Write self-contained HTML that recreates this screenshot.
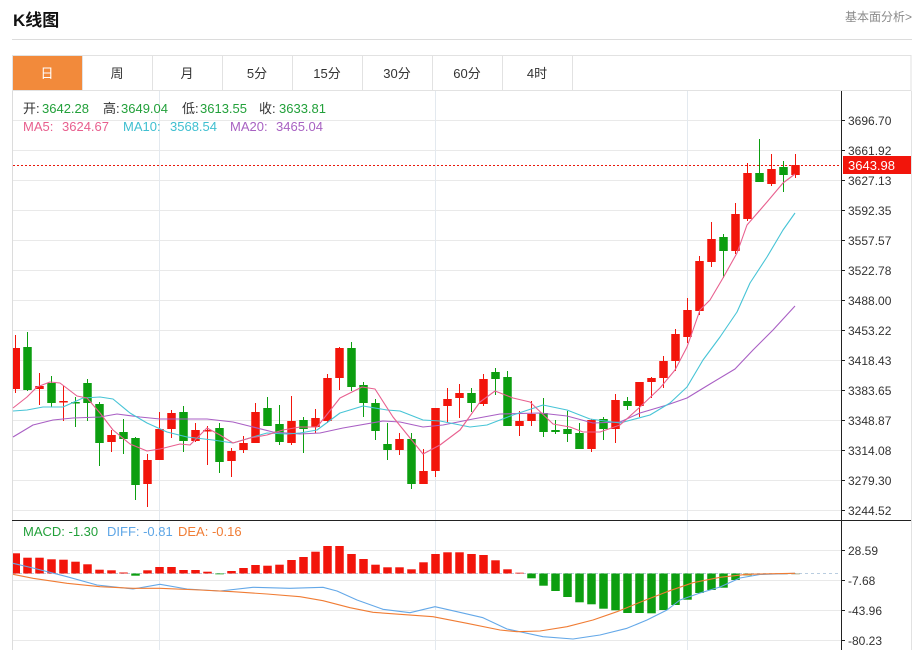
<!DOCTYPE html>
<html><head><meta charset="utf-8"><style>
html,body{margin:0;padding:0;background:#fff;}
svg{display:block;}
text{font-family:"Liberation Sans","Noto Sans CJK SC",sans-serif;}
</style></head><body>
<svg width="918" height="650" viewBox="0 0 918 650" xmlns="http://www.w3.org/2000/svg">
<rect width="918" height="650" fill="#fff"/>
<!-- header -->
<text x="13" y="26" font-size="17" font-weight="bold" fill="#111">K线图</text>
<text x="912" y="21" font-size="12" fill="#8a8a8a" text-anchor="end">基本面分析&gt;</text>
<line x1="12" y1="39.5" x2="912" y2="39.5" stroke="#dcdcdc"/>
<!-- tabs -->
<rect x="12.5" y="55.5" width="898.5" height="35" fill="#fff" stroke="#e2e2e2"/>
<rect x="13" y="56" width="69" height="34" fill="#f28a3b"/>
<g stroke="#e2e2e2">
<line x1="82.5" y1="56" x2="82.5" y2="91"/><line x1="152.5" y1="56" x2="152.5" y2="91"/>
<line x1="222.5" y1="56" x2="222.5" y2="91"/><line x1="292.5" y1="56" x2="292.5" y2="91"/>
<line x1="362.5" y1="56" x2="362.5" y2="91"/><line x1="432.5" y1="56" x2="432.5" y2="91"/>
<line x1="502.5" y1="56" x2="502.5" y2="91"/><line x1="572.5" y1="56" x2="572.5" y2="91"/>
</g>
<g font-size="13" fill="#333" text-anchor="middle">
<text x="47" y="78" fill="#fff">日</text><text x="117" y="78">周</text><text x="187" y="78">月</text>
<text x="257" y="78">5分</text><text x="327" y="78">15分</text><text x="397" y="78">30分</text>
<text x="467" y="78">60分</text><text x="537" y="78">4时</text>
</g>
<!-- panel borders -->
<line x1="12.5" y1="91" x2="12.5" y2="650" stroke="#dcdcdc"/>
<line x1="911.5" y1="91" x2="911.5" y2="650" stroke="#e2e2e2"/>
<!-- grid -->
<g stroke="#e9e9e9">
<line x1="13" y1="120.5" x2="841" y2="120.5"/><line x1="13" y1="150.5" x2="841" y2="150.5"/>
<line x1="13" y1="180.5" x2="841" y2="180.5"/><line x1="13" y1="210.5" x2="841" y2="210.5"/>
<line x1="13" y1="240.5" x2="841" y2="240.5"/><line x1="13" y1="270.5" x2="841" y2="270.5"/>
<line x1="13" y1="300.5" x2="841" y2="300.5"/><line x1="13" y1="330.5" x2="841" y2="330.5"/>
<line x1="13" y1="360.5" x2="841" y2="360.5"/><line x1="13" y1="390.5" x2="841" y2="390.5"/>
<line x1="13" y1="420.5" x2="841" y2="420.5"/><line x1="13" y1="450.5" x2="841" y2="450.5"/>
<line x1="13" y1="480.5" x2="841" y2="480.5"/><line x1="13" y1="510.5" x2="841" y2="510.5"/>
<line x1="13" y1="550.5" x2="841" y2="550.5"/><line x1="13" y1="580.5" x2="841" y2="580.5"/>
<line x1="13" y1="610.5" x2="841" y2="610.5"/><line x1="13" y1="640.5" x2="841" y2="640.5"/>
</g>
<g stroke="#e3e9ef">
<line x1="159.5" y1="91" x2="159.5" y2="650"/><line x1="435.5" y1="91" x2="435.5" y2="650"/>
<line x1="687.5" y1="91" x2="687.5" y2="650"/>
</g>
<!-- info text -->
<g font-size="13">
<text x="23" y="113" fill="#333">开:</text><text x="42" y="113" fill="#22a03a">3642.28</text>
<text x="103" y="113" fill="#333">高:</text><text x="121" y="113" fill="#22a03a">3649.04</text>
<text x="182" y="113" fill="#333">低:</text><text x="200" y="113" fill="#22a03a">3613.55</text>
<text x="259" y="113" fill="#333">收:</text><text x="279" y="113" fill="#22a03a">3633.81</text>
<text x="23" y="131" fill="#e85f8e">MA5:</text><text x="62" y="131" fill="#e85f8e">3624.67</text>
<text x="123" y="131" fill="#3fbfd0">MA10:</text><text x="170" y="131" fill="#3fbfd0">3568.54</text>
<text x="230" y="131" fill="#a862c2">MA20:</text><text x="276" y="131" fill="#a862c2">3465.04</text>
</g>
<!-- current price dashed -->
<line x1="13" y1="165.5" x2="841" y2="165.5" stroke="#e8180c" stroke-dasharray="2,2"/>
<!-- red candles -->
<g fill="#f2150b" stroke="#f2150b" stroke-width="1">
<line x1="15.5" y1="335" x2="15.5" y2="393"/><rect x="13" y="348" width="7" height="41" stroke="none"/>
<line x1="39.5" y1="373" x2="39.5" y2="405"/><rect x="35.25" y="386" width="8.5" height="3" stroke="none"/>
<line x1="63.5" y1="386" x2="63.5" y2="421"/><rect x="59.25" y="401" width="8.5" height="1.5" stroke="none"/>
<line x1="111.5" y1="430" x2="111.5" y2="452"/><rect x="107.25" y="435" width="8.5" height="7" stroke="none"/>
<line x1="147.5" y1="454" x2="147.5" y2="507"/><rect x="143.25" y="460" width="8.5" height="24" stroke="none"/>
<line x1="159.5" y1="412" x2="159.5" y2="460"/><rect x="155.25" y="429" width="8.5" height="31" stroke="none"/>
<line x1="171.5" y1="410" x2="171.5" y2="438"/><rect x="167.25" y="413" width="8.5" height="16" stroke="none"/>
<line x1="195.5" y1="423" x2="195.5" y2="442"/><rect x="191.25" y="430" width="8.5" height="11" stroke="none"/>
<line x1="207.5" y1="426" x2="207.5" y2="465"/><rect x="203.25" y="430" width="8.5" height="1.5" stroke="none"/>
<line x1="231.5" y1="448" x2="231.5" y2="477"/><rect x="227.25" y="451" width="8.5" height="10" stroke="none"/>
<line x1="243.5" y1="436" x2="243.5" y2="453"/><rect x="239.25" y="443" width="8.5" height="7" stroke="none"/>
<line x1="255.5" y1="403" x2="255.5" y2="443"/><rect x="251.25" y="412" width="8.5" height="31" stroke="none"/>
<line x1="291.5" y1="396" x2="291.5" y2="445"/><rect x="287.25" y="421" width="8.5" height="22" stroke="none"/>
<line x1="315.5" y1="409" x2="315.5" y2="433"/><rect x="311.25" y="418" width="8.5" height="9" stroke="none"/>
<line x1="327.5" y1="374" x2="327.5" y2="423"/><rect x="323.25" y="378" width="8.5" height="43" stroke="none"/>
<line x1="339.5" y1="347" x2="339.5" y2="390"/><rect x="335.25" y="348" width="8.5" height="30" stroke="none"/>
<line x1="399.5" y1="433" x2="399.5" y2="455"/><rect x="395.25" y="439" width="8.5" height="11" stroke="none"/>
<line x1="423.5" y1="449" x2="423.5" y2="484"/><rect x="419.25" y="471" width="8.5" height="13" stroke="none"/>
<line x1="435.5" y1="408" x2="435.5" y2="477"/><rect x="431.25" y="408" width="8.5" height="63" stroke="none"/>
<line x1="447.5" y1="388" x2="447.5" y2="422"/><rect x="443.25" y="399" width="8.5" height="7" stroke="none"/>
<line x1="459.5" y1="384" x2="459.5" y2="418"/><rect x="455.25" y="393" width="8.5" height="5" stroke="none"/>
<line x1="483.5" y1="374" x2="483.5" y2="406"/><rect x="479.25" y="379" width="8.5" height="25" stroke="none"/>
<line x1="519.5" y1="411" x2="519.5" y2="436"/><rect x="515.25" y="421" width="8.5" height="5" stroke="none"/>
<line x1="531.5" y1="401" x2="531.5" y2="426"/><rect x="527.25" y="414" width="8.5" height="7" stroke="none"/>
<line x1="591.5" y1="419" x2="591.5" y2="452"/><rect x="587.25" y="420" width="8.5" height="29" stroke="none"/>
<line x1="615.5" y1="394" x2="615.5" y2="443"/><rect x="611.25" y="400" width="8.5" height="29" stroke="none"/>
<line x1="639.5" y1="382" x2="639.5" y2="417"/><rect x="635.25" y="382" width="8.5" height="24" stroke="none"/>
<line x1="651.5" y1="377" x2="651.5" y2="398"/><rect x="647.25" y="378" width="8.5" height="4" stroke="none"/>
<line x1="663.5" y1="356" x2="663.5" y2="388"/><rect x="659.25" y="361" width="8.5" height="17" stroke="none"/>
<line x1="675.5" y1="329" x2="675.5" y2="371"/><rect x="671.25" y="334" width="8.5" height="27" stroke="none"/>
<line x1="687.5" y1="298" x2="687.5" y2="343"/><rect x="683.25" y="310" width="8.5" height="27" stroke="none"/>
<line x1="699.5" y1="256" x2="699.5" y2="315"/><rect x="695.25" y="261" width="8.5" height="50" stroke="none"/>
<line x1="711.5" y1="222" x2="711.5" y2="267"/><rect x="707.25" y="239" width="8.5" height="23" stroke="none"/>
<line x1="735.5" y1="203" x2="735.5" y2="254"/><rect x="731.25" y="214" width="8.5" height="37" stroke="none"/>
<line x1="747.5" y1="163" x2="747.5" y2="221"/><rect x="743.25" y="173" width="8.5" height="46" stroke="none"/>
<line x1="771.5" y1="154" x2="771.5" y2="186"/><rect x="767.25" y="169" width="8.5" height="15" stroke="none"/>
<line x1="795.5" y1="154" x2="795.5" y2="178"/><rect x="791.25" y="165" width="8.5" height="10" stroke="none"/>
</g>
<!-- green candles -->
<g fill="#0c9e10" stroke="#0c9e10" stroke-width="1">
<line x1="27.5" y1="332" x2="27.5" y2="391"/><rect x="23.25" y="347" width="8.5" height="43" stroke="none"/>
<line x1="51.5" y1="376" x2="51.5" y2="407"/><rect x="47.25" y="383" width="8.5" height="20" stroke="none"/>
<line x1="75.5" y1="397" x2="75.5" y2="427"/><rect x="71.25" y="402" width="8.5" height="1.5" stroke="none"/>
<line x1="87.5" y1="379" x2="87.5" y2="421"/><rect x="83.25" y="383" width="8.5" height="20" stroke="none"/>
<line x1="99.5" y1="402" x2="99.5" y2="466"/><rect x="95.25" y="404" width="8.5" height="39" stroke="none"/>
<line x1="123.5" y1="419" x2="123.5" y2="454"/><rect x="119.25" y="432" width="8.5" height="7" stroke="none"/>
<line x1="135.5" y1="437" x2="135.5" y2="500"/><rect x="131.25" y="438" width="8.5" height="47" stroke="none"/>
<line x1="183.5" y1="406" x2="183.5" y2="452"/><rect x="179.25" y="412" width="8.5" height="29" stroke="none"/>
<line x1="219.5" y1="423" x2="219.5" y2="473"/><rect x="215.25" y="428" width="8.5" height="34" stroke="none"/>
<line x1="267.5" y1="397" x2="267.5" y2="426"/><rect x="263.25" y="408" width="8.5" height="18" stroke="none"/>
<line x1="279.5" y1="405" x2="279.5" y2="445"/><rect x="275.25" y="424" width="8.5" height="18" stroke="none"/>
<line x1="303.5" y1="417" x2="303.5" y2="453"/><rect x="299.25" y="420" width="8.5" height="9" stroke="none"/>
<line x1="351.5" y1="342" x2="351.5" y2="391"/><rect x="347.25" y="348" width="8.5" height="39" stroke="none"/>
<line x1="363.5" y1="382" x2="363.5" y2="417"/><rect x="359.25" y="385" width="8.5" height="18" stroke="none"/>
<line x1="375.5" y1="399" x2="375.5" y2="440"/><rect x="371.25" y="403" width="8.5" height="28" stroke="none"/>
<line x1="387.5" y1="423" x2="387.5" y2="460"/><rect x="383.25" y="444" width="8.5" height="6" stroke="none"/>
<line x1="411.5" y1="433" x2="411.5" y2="489"/><rect x="407.25" y="439" width="8.5" height="45" stroke="none"/>
<line x1="471.5" y1="388" x2="471.5" y2="412"/><rect x="467.25" y="393" width="8.5" height="10" stroke="none"/>
<line x1="495.5" y1="368" x2="495.5" y2="395"/><rect x="491.25" y="372" width="8.5" height="7" stroke="none"/>
<line x1="507.5" y1="371" x2="507.5" y2="426"/><rect x="503.25" y="377" width="8.5" height="49" stroke="none"/>
<line x1="543.5" y1="398" x2="543.5" y2="437"/><rect x="539.25" y="413" width="8.5" height="19" stroke="none"/>
<line x1="555.5" y1="420" x2="555.5" y2="434"/><rect x="551.25" y="430" width="8.5" height="2" stroke="none"/>
<line x1="567.5" y1="411" x2="567.5" y2="442"/><rect x="563.25" y="429" width="8.5" height="5" stroke="none"/>
<line x1="579.5" y1="423" x2="579.5" y2="449"/><rect x="575.25" y="433" width="8.5" height="16" stroke="none"/>
<line x1="603.5" y1="417" x2="603.5" y2="440"/><rect x="599.25" y="419" width="8.5" height="10" stroke="none"/>
<line x1="627.5" y1="397" x2="627.5" y2="410"/><rect x="623.25" y="401" width="8.5" height="5" stroke="none"/>
<line x1="723.5" y1="234" x2="723.5" y2="278"/><rect x="719.25" y="237" width="8.5" height="14" stroke="none"/>
<line x1="759.5" y1="139" x2="759.5" y2="182"/><rect x="755.25" y="173" width="8.5" height="9" stroke="none"/>
<line x1="783.5" y1="161" x2="783.5" y2="192"/><rect x="779.25" y="167" width="8.5" height="8" stroke="none"/>
</g>
<!-- MA lines -->
<g fill="none" stroke-width="1.1" stroke-linejoin="round">
<polyline stroke="#a95fc4" points="13,437 33,425 53,420 73,418 100,417 117,414 140,417 160,419 187,419 207,419 233,422 253,427 273,432 300,434 320,433 343,428 383,421 400,422 423,427 443,425 473,419 500,414 540,413 567,416 593,423 620,422 640,413 667,405 687,398 710,384 735,369 753,350 773,330 795,306"/>
<polyline stroke="#47c4d6" points="13,411 27,410 43,407 63,407 83,398 100,397 113,399 130,413 147,423 167,432 187,437 213,440 233,443 253,437 267,433 287,434 300,433 317,430 340,413 363,406 387,410 400,411 423,420 440,421 470,427 487,425 513,415 543,405 567,410 590,419 620,423 650,415 670,403 687,387 703,360 720,337 737,312 750,283 767,257 783,230 795,213"/>
<polyline stroke="#e8608f" points="13,408 27,397 37,387 50,382 60,383 77,396 87,398 100,413 113,430 130,444 147,451 160,449 180,444 190,445 207,428 220,435 233,443 250,438 267,435 283,430 300,427 317,427 340,398 362,387 375,389 393,417 423,454 440,445 460,430 480,402 495,391 513,398 530,402 553,424 570,427 583,432 600,432 620,425 640,407 660,388 675,370 687,347 700,310 710,300 723,278 737,253 747,225 767,202 783,183 795,174"/>
</g>
<!-- MACD separator -->
<line x1="12" y1="520.5" x2="911" y2="520.5" stroke="#222"/>
<g font-size="13">
<text x="23" y="536" fill="#22a03a">MACD: -1.30</text>
<text x="107" y="536" fill="#5ea6e6">DIFF: -0.81</text>
<text x="178" y="536" fill="#f07c34">DEA: -0.16</text>
</g>
<line x1="13" y1="573.5" x2="841" y2="573.5" stroke="#b9cde0" stroke-dasharray="3,3"/>
<!-- MACD bars -->
<g fill="#f2150b">
<rect x="13" y="553.3" width="7" height="20.2"/>
<rect x="23.25" y="557.7" width="8.5" height="15.8"/>
<rect x="35.25" y="557.7" width="8.5" height="15.8"/>
<rect x="47.25" y="559.3" width="8.5" height="14.2"/>
<rect x="59.25" y="559.7" width="8.5" height="13.8"/>
<rect x="71.25" y="561.7" width="8.5" height="11.8"/>
<rect x="83.25" y="564.3" width="8.5" height="9.2"/>
<rect x="95.25" y="569.7" width="8.5" height="3.8"/>
<rect x="107.25" y="570.3" width="8.5" height="3.2"/>
<rect x="119.25" y="572.5" width="8.5" height="1"/>
<rect x="143.25" y="570.3" width="8.5" height="3.2"/>
<rect x="155.25" y="567" width="8.5" height="6.5"/>
<rect x="167.25" y="567" width="8.5" height="6.5"/>
<rect x="179.25" y="570" width="8.5" height="3.5"/>
<rect x="191.25" y="570" width="8.5" height="3.5"/>
<rect x="203.25" y="571.7" width="8.5" height="1.8"/>
<rect x="227.25" y="571" width="8.5" height="2.5"/>
<rect x="239.25" y="568" width="8.5" height="5.5"/>
<rect x="251.25" y="565" width="8.5" height="8.5"/>
<rect x="263.25" y="565.7" width="8.5" height="7.8"/>
<rect x="275.25" y="564.7" width="8.5" height="8.8"/>
<rect x="287.25" y="560" width="8.5" height="13.5"/>
<rect x="299.25" y="557" width="8.5" height="16.5"/>
<rect x="311.25" y="551.7" width="8.5" height="21.8"/>
<rect x="323.25" y="546" width="8.5" height="27.5"/>
<rect x="335.25" y="546" width="8.5" height="27.5"/>
<rect x="347.25" y="554" width="8.5" height="19.5"/>
<rect x="359.25" y="559" width="8.5" height="14.5"/>
<rect x="371.25" y="564.7" width="8.5" height="8.8"/>
<rect x="383.25" y="567.3" width="8.5" height="6.2"/>
<rect x="395.25" y="567.3" width="8.5" height="6.2"/>
<rect x="407.25" y="569.3" width="8.5" height="4.2"/>
<rect x="419.25" y="562.3" width="8.5" height="11.2"/>
<rect x="431.25" y="554" width="8.5" height="19.5"/>
<rect x="443.25" y="552.3" width="8.5" height="21.2"/>
<rect x="455.25" y="552.3" width="8.5" height="21.2"/>
<rect x="467.25" y="554" width="8.5" height="19.5"/>
<rect x="479.25" y="555" width="8.5" height="18.5"/>
<rect x="491.25" y="560.3" width="8.5" height="13.2"/>
<rect x="503.25" y="569.3" width="8.5" height="4.2"/>
<rect x="515.25" y="572.7" width="8.5" height="0.8"/>
</g>
<g fill="#0c9e10">
<rect x="131.25" y="573.5" width="8.5" height="2.2"/>
<rect x="215.25" y="573.5" width="8.5" height="0.8"/>
<rect x="527.25" y="573.5" width="8.5" height="4.8"/>
<rect x="539.25" y="573.5" width="8.5" height="12.2"/>
<rect x="551.25" y="573.5" width="8.5" height="17.5"/>
<rect x="563.25" y="573.5" width="8.5" height="23.5"/>
<rect x="575.25" y="573.5" width="8.5" height="28.8"/>
<rect x="587.25" y="573.5" width="8.5" height="30.8"/>
<rect x="599.25" y="573.5" width="8.5" height="35.2"/>
<rect x="611.25" y="573.5" width="8.5" height="36.8"/>
<rect x="623.25" y="573.5" width="8.5" height="39.5"/>
<rect x="635.25" y="573.5" width="8.5" height="39.5"/>
<rect x="647.25" y="573.5" width="8.5" height="39.8"/>
<rect x="659.25" y="573.5" width="8.5" height="36.5"/>
<rect x="671.25" y="573.5" width="8.5" height="31.5"/>
<rect x="683.25" y="573.5" width="8.5" height="26.2"/>
<rect x="695.25" y="573.5" width="8.5" height="19.5"/>
<rect x="707.25" y="573.5" width="8.5" height="16.5"/>
<rect x="719.25" y="573.5" width="8.5" height="14.2"/>
<rect x="731.25" y="573.5" width="8.5" height="6.5"/>
<rect x="743.25" y="573.5" width="8.5" height="2" fill="#8aa040"/>
<rect x="755.25" y="573.5" width="8.5" height="1" fill="#9a9a70"/>
<rect x="767.25" y="573.5" width="8.5" height="1" fill="#9a9a70"/>
<rect x="779.25" y="573.5" width="8.5" height="0.8" fill="#9a9a70"/>
<rect x="791.25" y="573.5" width="8.5" height="0.8" fill="#9a9a70"/>
</g>
<!-- DIFF / DEA -->
<g fill="none" stroke-width="1.1" stroke-linejoin="round">
<polyline stroke="#64a8e8" points="13,563.3 33,568 67,576.7 97,585 133,589 160,584.3 187,589 220,591 253,587.3 290,588.3 323,587.3 337,591 357,600 383,609.3 410,612.7 435,606.7 457,611.7 483,617.7 507,629 543,636.7 573,639 600,635 627,628.3 647,620 667,610 680,600 700,593 720,587 740,578 760,574.5 795,573.3"/>
<polyline stroke="#f07c34" points="13,574.3 33,578.3 67,583.3 100,586.7 133,588.3 160,588.3 200,590 233,591.7 267,594 300,596.7 323,600.7 350,607.7 373,612.3 400,614.3 433,616.7 467,623.3 500,630 517,631.7 540,631 567,626.7 593,620 617,611.7 640,602.3 667,591.7 693,582.7 720,577.3 747,574.3 795,573.3"/>
</g>
<!-- y axis -->
<line x1="841.5" y1="91" x2="841.5" y2="650" stroke="#222"/>
<g stroke="#222">
<line x1="841" y1="120.5" x2="845" y2="120.5"/><line x1="841" y1="150.5" x2="845" y2="150.5"/>
<line x1="841" y1="180.5" x2="845" y2="180.5"/><line x1="841" y1="210.5" x2="845" y2="210.5"/>
<line x1="841" y1="240.5" x2="845" y2="240.5"/><line x1="841" y1="270.5" x2="845" y2="270.5"/>
<line x1="841" y1="300.5" x2="845" y2="300.5"/><line x1="841" y1="330.5" x2="845" y2="330.5"/>
<line x1="841" y1="360.5" x2="845" y2="360.5"/><line x1="841" y1="390.5" x2="845" y2="390.5"/>
<line x1="841" y1="420.5" x2="845" y2="420.5"/><line x1="841" y1="450.5" x2="845" y2="450.5"/>
<line x1="841" y1="480.5" x2="845" y2="480.5"/><line x1="841" y1="510.5" x2="845" y2="510.5"/>
<line x1="841" y1="550.5" x2="845" y2="550.5"/><line x1="841" y1="580.5" x2="845" y2="580.5"/>
<line x1="841" y1="610.5" x2="845" y2="610.5"/><line x1="841" y1="640.5" x2="845" y2="640.5"/>
</g>
<g font-size="12" fill="#333">
<text x="848" y="125">3696.70</text><text x="848" y="155">3661.92</text>
<text x="848" y="185">3627.13</text><text x="848" y="215">3592.35</text>
<text x="848" y="245">3557.57</text><text x="848" y="275">3522.78</text>
<text x="848" y="305">3488.00</text><text x="848" y="335">3453.22</text>
<text x="848" y="365">3418.43</text><text x="848" y="395">3383.65</text>
<text x="848" y="425">3348.87</text><text x="848" y="455">3314.08</text>
<text x="848" y="485">3279.30</text><text x="848" y="515">3244.52</text>
<text x="848" y="555">28.59</text><text x="848" y="585">-7.68</text>
<text x="848" y="615">-43.96</text><text x="848" y="645">-80.23</text>
</g>
<rect x="843" y="156" width="68" height="18" fill="#f2150b"/>
<text x="848" y="170" font-size="13" fill="#fff">3643.98</text>
</svg>
</body></html>
